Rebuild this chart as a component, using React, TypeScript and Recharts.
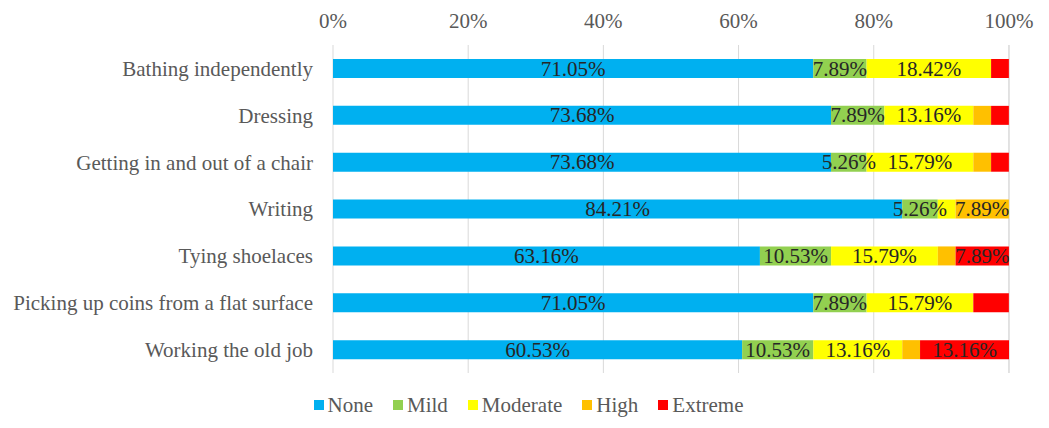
import React from "react";
import { BarChart, Bar, XAxis, YAxis, CartesianGrid, LabelList } from "recharts";

const categories = [
  "Bathing independently",
  "Dressing",
  "Getting in and out of a chair",
  "Writing",
  "Tying shoelaces",
  "Picking up coins from a flat surface",
  "Working the old job",
];
const noneVals = [71.05, 73.68, 73.68, 84.21, 63.16, 71.05, 60.53];
const mildVals = [7.89, 7.89, 5.26, 5.26, 10.53, 7.89, 10.53];
const moderateVals = [18.42, 13.16, 15.79, 2.63, 15.79, 15.79, 13.16];
const highVals = [0, 2.63, 2.63, 7.89, 2.63, 0, 2.63];
const extremeVals = [2.63, 2.63, 2.63, 0, 7.89, 5.26, 13.16];
const xTicks = [0, 20, 40, 60, 80, 100];

// smallest value that gets a data label in each series (as in the original)
const seriesDefs = [
  { key: "None", vals: noneVals, color: "#00b0f0", labelMin: 3 },
  { key: "Mild", vals: mildVals, color: "#92d050", labelMin: 3 },
  { key: "Moderate", vals: moderateVals, color: "#ffff00", labelMin: 3 },
  { key: "High", vals: highVals, color: "#ffc000", labelMin: 3 },
  { key: "Extreme", vals: extremeVals, color: "#ff0000", labelMin: 6 },
];

const data = categories.map((c, i) => {
  const row: Record<string, string | number> = { name: c };
  seriesDefs.forEach((s) => {
    row[s.key] = s.vals[i];
  });
  return row;
});

const FONT = "'Liberation Serif', 'Times New Roman', serif";
const TXT = "#595959";
const FS = 21;

const makeLabel = (minVal: number) => (props: any) => {
  const { x, y, width, height, value } = props;
  if (typeof value !== "number" || value < minVal) return null;
  return (
    <text
      x={Number(x) + Number(width) / 2}
      y={Number(y) + Number(height) / 2}
      textAnchor="middle"
      dominantBaseline="central"
      fill="#262626"
      fontSize={FS}
      fontFamily={FONT}
    >
      {value.toFixed(2) + "%"}
    </text>
  );
};

export default function App() {
  return (
    <div style={{ position: "absolute", left: 0, top: 0, width: 1049, height: 428, fontFamily: FONT }}>
      <BarChart
        width={1049}
        height={428}
        data={data}
        layout="vertical"
        margin={{ top: 0, right: 40, bottom: 55, left: 0 }}
        barSize={19}
      >
        <CartesianGrid horizontal={false} stroke="#d9d9d9" strokeWidth={1} />
        <XAxis
          type="number"
          orientation="top"
          domain={[0, 100]}
          ticks={xTicks}
          height={45}
          axisLine={false}
          tickLine={false}
          tickSize={0}
          tickMargin={17}
          tickFormatter={(v: number) => v + "%"}
          tick={{ fill: TXT, fontSize: FS, fontFamily: FONT }}
        />
        <YAxis
          type="category"
          dataKey="name"
          width={333}
          axisLine={false}
          tickLine={false}
          tickSize={0}
          tickMargin={20}
          tick={{ fill: TXT, fontSize: FS, fontFamily: FONT }}
        />
        {seriesDefs.map((s) => (
          <Bar key={s.key} dataKey={s.key} stackId="a" fill={s.color} isAnimationActive={false}>
            <LabelList dataKey={s.key} content={makeLabel(s.labelMin)} />
          </Bar>
        ))}
      </BarChart>
      <div
        style={{
          position: "absolute",
          left: 0,
          top: 392,
          width: 1049,
          display: "flex",
          justifyContent: "center",
          paddingLeft: 28,
          boxSizing: "border-box",
          fontFamily: FONT,
          fontSize: FS,
          color: TXT,
          lineHeight: "26px",
        }}
      >
        {seriesDefs.map((s) => (
          <div key={s.key} style={{ display: "flex", alignItems: "center", marginRight: 20 }}>
            <span style={{ display: "inline-block", width: 10, height: 10, background: s.color, marginRight: 4 }} />
            <span>{s.key}</span>
          </div>
        ))}
      </div>
    </div>
  );
}
